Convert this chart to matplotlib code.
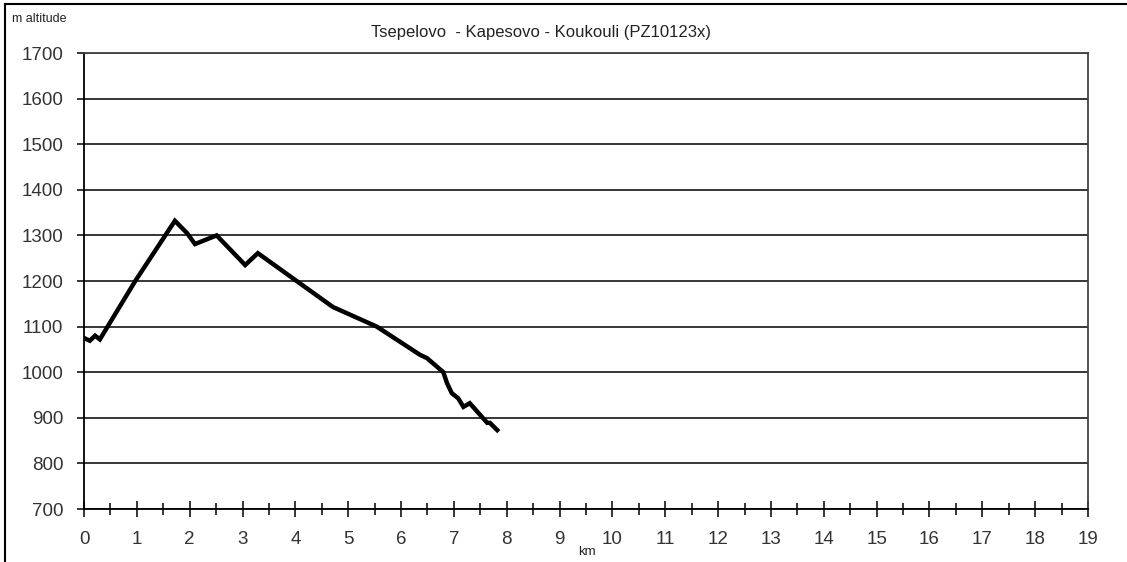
import matplotlib.pyplot as plt
from matplotlib.lines import Line2D
from matplotlib.ticker import MultipleLocator

plt.rcParams['font.family'] = ['Liberation Sans', 'DejaVu Sans']

# elevation profile
km = [0, 0.11, 0.21, 0.3, 0.97, 1.72, 1.95, 2.10, 2.51, 3.05, 3.29, 4.0,
      4.71, 5.54, 6.36, 6.49, 6.8, 6.87, 6.96, 7.08, 7.18, 7.3, 7.63, 7.68, 7.82]
altitude = [1075, 1069, 1080, 1072, 1200, 1332, 1305, 1281, 1300, 1235, 1261, 1202,
            1143, 1100, 1038, 1031, 1000, 976, 954, 943, 924, 932, 889, 889, 873]

x_ticks = list(range(0, 20))
y_ticks = list(range(700, 1701, 100))

W, H = 1127, 562
fig = plt.figure(figsize=(W / 100, H / 100), dpi=100)
ax = fig.add_axes([84 / W, 1 - 509 / H, (1088 - 84) / W, (509 - 53) / H])

ax.plot(km, altitude, color='black', lw=3.2, solid_joinstyle='miter', zorder=3)

ax.set_xlim(0, 19)
ax.set_ylim(700, 1700)
ax.set_xticks(x_ticks)
ax.xaxis.set_minor_locator(MultipleLocator(0.5))
ax.set_yticks(y_ticks)
ax.yaxis.grid(True, color='black', lw=1.1)
ax.set_axisbelow(True)

ax.tick_params(axis='x', which='major', direction='inout', length=11, width=1.1,
               pad=10, labelsize=13.5, colors='black', labelcolor='#333333')
ax.tick_params(axis='x', which='minor', direction='inout', length=8, width=1.1)
ax.tick_params(axis='y', direction='out', length=5, width=1.1, pad=10,
               labelsize=13.5, labelcolor='#333333')

ax.spines['left'].set_color('black')
ax.spines['bottom'].set_color('black')
ax.spines['top'].set_color('#444444')
ax.spines['right'].set_color('#444444')
for s in ax.spines.values():
    s.set_linewidth(1.3)

fig.text(541 / W, 1 - 33 / H, "Tsepelovo  - Kapesovo - Koukouli (PZ10123x)",
         ha='center', va='center', fontsize=12, color='#222222')
fig.text(12 / W, 1 - 19 / H, "m altitude", ha='left', va='center',
         fontsize=9, color='#222222')
fig.text(587 / W, 1 - 552 / H, "km", ha='center', va='center',
         fontsize=9.5, color='#222222')

# outer frame (top and left only, like the cropped screenshot)
fig.add_artist(Line2D([5 / W, 1], [1 - 4 / H, 1 - 4 / H], color='black', lw=1.5,
                      transform=fig.transFigure))
fig.add_artist(Line2D([5 / W, 5 / W], [0, 1 - 4 / H], color='black', lw=1.5,
                      transform=fig.transFigure))

fig.savefig('out.png', dpi=100)
